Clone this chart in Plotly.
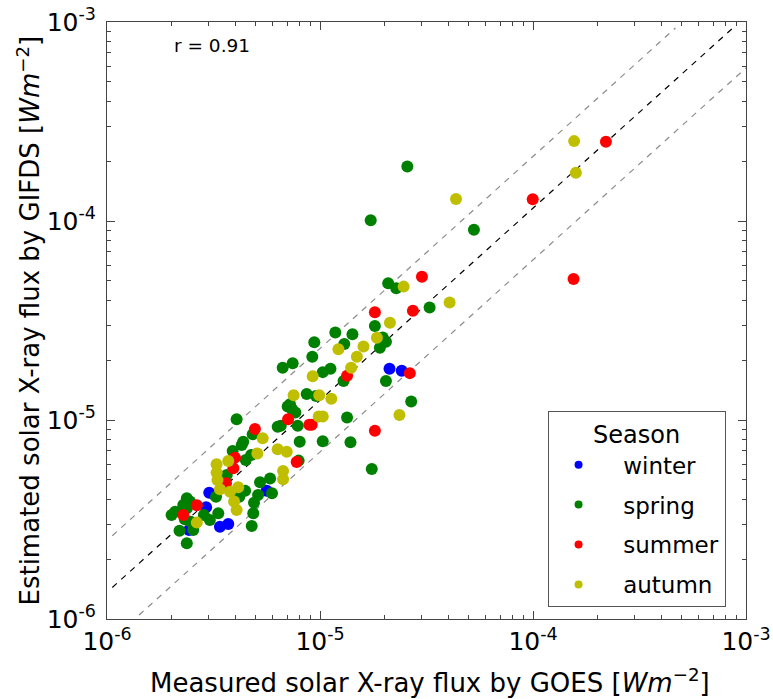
import numpy as np
import plotly.graph_objects as go

# ---------------- data ----------------
SEASONS = ["winter", "spring", "summer", "autumn"]
COLORS = {"winter": "#0000ff", "spring": "#008000", "summer": "#ff0000", "autumn": "#bfbf00"}

WINTER_GOES = [2.12e-5, 2.42e-5, 5.62e-6, 3.02e-6, 2.92e-6, 3.39e-6, 3.71e-6, 2.43e-6]
WINTER_GIFDS = [1.81e-5, 1.77e-5, 4.41e-6, 4.31e-6, 3.64e-6, 2.91e-6, 3.00e-6, 2.80e-6]

SPRING_GOES = [
    2.57e-5, 1.73e-5, 5.28e-5, 2.09e-5, 2.28e-5, 3.27e-5, 1.81e-5, 1.42e-5, 1.97e-5, 2.04e-5,
    1.91e-5, 1.18e-5, 1.30e-5, 9.40e-6, 9.20e-6, 6.68e-6, 7.44e-6, 1.03e-5, 1.12e-5, 1.29e-5,
    2.04e-5, 2.68e-5, 1.75e-5, 1.34e-5, 1.39e-5, 1.03e-5, 8.03e-6, 8.66e-6, 9.58e-6, 7.23e-6,
    7.41e-6, 7.66e-6, 7.05e-6, 6.33e-6, 6.54e-6, 7.86e-6, 4.83e-6, 4.75e-6, 7.94e-6, 5.83e-6,
    5.23e-6, 5.95e-6, 5.12e-6, 4.06e-6, 4.36e-6, 4.29e-6, 3.89e-6, 4.48e-6, 3.65e-6, 3.49e-6,
    4.45e-6, 4.18e-6, 3.25e-6, 4.90e-6, 4.86e-6, 4.78e-6, 2.09e-6, 2.01e-6, 2.37e-6, 2.45e-6,
    2.28e-6, 2.37e-6, 2.85e-6, 3.04e-6, 3.33e-6, 2.32e-6, 2.47e-6, 2.54e-6, 2.19e-6, 2.37e-6,
]
SPRING_GIFDS = [
    1.88e-4, 1.01e-4, 9.04e-5, 4.86e-5, 4.59e-5, 3.68e-5, 2.97e-5, 2.70e-5, 2.60e-5, 2.47e-5,
    2.31e-5, 2.75e-5, 2.41e-5, 2.46e-5, 2.08e-5, 1.83e-5, 1.93e-5, 1.74e-5, 1.81e-5, 1.57e-5,
    1.57e-5, 1.24e-5, 5.67e-6, 1.03e-5, 7.72e-6, 7.82e-6, 7.78e-6, 1.35e-5, 1.32e-5, 1.20e-5,
    1.13e-5, 1.09e-5, 1.17e-5, 9.25e-6, 9.36e-6, 9.36e-6, 8.47e-6, 6.67e-6, 6.25e-6, 5.08e-6,
    4.86e-6, 4.28e-6, 4.20e-6, 1.01e-5, 7.78e-6, 7.49e-6, 6.99e-6, 6.30e-6, 5.29e-6, 4.66e-6,
    4.41e-6, 4.12e-6, 4.12e-6, 3.84e-6, 3.40e-6, 2.93e-6, 3.46e-6, 3.33e-6, 4.04e-6, 3.89e-6,
    3.74e-6, 3.60e-6, 3.33e-6, 3.14e-6, 3.40e-6, 3.17e-6, 3.08e-6, 2.80e-6, 2.78e-6, 2.40e-6,
]

SUMMER_GOES = [
    2.20e-4, 9.97e-5, 1.55e-4, 3.01e-5, 2.73e-5, 1.81e-5, 1.34e-5, 2.64e-5, 1.81e-5, 7.08e-6,
    8.91e-6, 9.14e-6, 4.95e-6, 7.77e-6, 3.99e-6, 3.92e-6, 3.62e-6, 2.64e-6, 2.28e-6,
]
SUMMER_GIFDS = [
    2.50e-4, 1.285e-4, 5.11e-5, 5.25e-5, 3.54e-5, 3.48e-5, 1.67e-5, 1.72e-5, 8.84e-6, 1.01e-5,
    9.47e-6, 9.47e-6, 9.01e-6, 6.15e-6, 6.47e-6, 5.72e-6, 4.81e-6, 3.73e-6, 3.33e-6,
]

AUTUMN_GOES = [
    1.56e-4, 4.35e-5, 1.59e-4, 2.47e-5, 4.06e-5, 2.13e-5, 1.85e-5, 1.60e-5, 1.22e-5, 1.49e-5,
    9.24e-6, 1.40e-5, 2.36e-5, 7.52e-6, 9.92e-6, 1.13e-5, 9.86e-6, 1.03e-5, 5.38e-6, 5.08e-6,
    6.33e-6, 6.98e-6, 6.71e-6, 6.71e-6, 3.71e-6, 3.27e-6, 3.27e-6, 3.30e-6, 3.39e-6, 3.78e-6,
    4.13e-6, 3.95e-6, 4.06e-6, 2.64e-6,
]
AUTUMN_GIFDS = [
    2.52e-4, 1.29e-4, 1.75e-4, 4.68e-5, 3.89e-5, 3.08e-5, 2.59e-5, 2.34e-5, 2.27e-5, 2.08e-5,
    1.66e-5, 1.83e-5, 1.06e-5, 1.33e-5, 1.33e-5, 1.28e-5, 1.04e-5, 1.04e-5, 8.09e-6, 6.79e-6,
    7.12e-6, 6.93e-6, 5.54e-6, 5.04e-6, 6.22e-6, 5.99e-6, 5.44e-6, 4.99e-6, 4.49e-6, 4.36e-6,
    4.59e-6, 3.89e-6, 3.53e-6, 3.05e-6,
]

DATA = {
    "winter": (WINTER_GOES, WINTER_GIFDS),
    "spring": (SPRING_GOES, SPRING_GIFDS),
    "summer": (SUMMER_GOES, SUMMER_GIFDS),
    "autumn": (AUTUMN_GOES, AUTUMN_GIFDS),
}

R_TEXT = "r = 0.91"
X_TITLE = "Measured solar X-ray flux by GOES [<i>Wm</i><sup>−2</sup>]"
Y_TITLE = "Estimated solar X-ray flux by GIFDS [<i>Wm</i><sup>−2</sup>]"
# fitted line in log-log space: log10(y) = FIT_A + FIT_B * log10(x), band = +/- BAND_DEX
FIT_A = -0.0755
FIT_B = 0.965
BAND_DEX = 0.26
LINE_X_START = -5.975
LINE_Y_END = -3.03

TICK_VALS = [1e-6, 1e-5, 1e-4, 1e-3]
TICK_TEXT = ["10<sup>-6</sup>", "10<sup>-5</sup>", "10<sup>-4</sup>", "10<sup>-3</sup>"]

FONT = "DejaVu Sans, Verdana, sans-serif"
NBSP = "\u00a0"

fig = go.Figure()

# reference lines
for off, col in [(BAND_DEX, "#8c8c8c"), (-BAND_DEX, "#8c8c8c"), (0.0, "#000000")]:
    x_end = min(-3.0, (LINE_Y_END - FIT_A - off) / FIT_B)
    lx = np.linspace(LINE_X_START, x_end, 50)
    ly = FIT_A + off + FIT_B * lx
    fig.add_trace(go.Scatter(
        x=10 ** lx, y=10 ** ly, mode="lines",
        line=dict(color=col, width=1.2, dash="6px,6px"),
        showlegend=False, hoverinfo="skip",
    ))

# data points
for s in SEASONS:
    gx, gy = DATA[s]
    fig.add_trace(go.Scatter(
        x=gx, y=gy, mode="markers", name=s, legendgroup=s, showlegend=False,
        marker=dict(color=COLORS[s], size=12, line=dict(width=0)),
    ))
# legend entries (small dots)
for s in SEASONS:
    fig.add_trace(go.Scatter(
        x=[None], y=[None], mode="markers", name=NBSP * 2 + s, legendgroup=s, showlegend=True,
        marker=dict(color=COLORS[s], size=8, line=dict(width=0)),
    ))

minor_vals = [m * 10.0 ** e for e in range(-6, -3) for m in range(2, 10)]

axis_common = dict(
    type="log", range=[-6, -3], tickvals=TICK_VALS, ticktext=TICK_TEXT,
    ticks="inside", ticklen=8, tickwidth=1, tickcolor="#444",
    showline=True, linecolor="#444", linewidth=1.2, mirror="ticks",
    showgrid=False, zeroline=False, automargin=False, ticklabeloverflow="allow",
    tickfont=dict(size=25, color="black", family=FONT),
    minor=dict(tickvals=minor_vals, ticks="inside", ticklen=4, tickcolor="#444", showgrid=False),
)

fig.update_layout(
    width=773, height=699,
    margin=dict(l=107, r=27, t=22, b=80, autoexpand=False),
    paper_bgcolor="white", plot_bgcolor="white",
    font=dict(family=FONT, color="black"),
    xaxis=dict(**axis_common),
    yaxis=dict(**axis_common, ticklabelstandoff=5),
    showlegend=True,
    legend=dict(
        x=0.968, y=0.02, xanchor="right", yanchor="bottom",
        bgcolor="white", bordercolor="#555", borderwidth=1,
        font=dict(size=23, family=FONT),
        title=dict(text="Season", side="top center", font=dict(size=24, family=FONT)),
        itemwidth=50, tracegroupgap=7,
    ),
    annotations=[
        dict(x=0.102, y=0.96, xref="paper", yref="paper", xanchor="left", yanchor="middle",
             text=R_TEXT, showarrow=False, font=dict(size=18.5, family=FONT)),
        dict(x=0.505, y=-0.104, xref="paper", yref="paper", xanchor="center", yanchor="middle",
             text=X_TITLE, showarrow=False, font=dict(size=26, family=FONT)),
        dict(x=-0.1236, y=0.5, xref="paper", yref="paper", xanchor="center", yanchor="middle",
             text=Y_TITLE, textangle=-90, showarrow=False, font=dict(size=26, family=FONT)),
    ],
)

fig.write_html("out.html", config={"displayModeBar": False},
               post_script="document.body.style.margin='0';")
